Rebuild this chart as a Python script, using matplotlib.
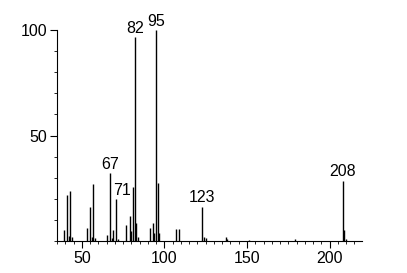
import matplotlib
matplotlib.use("Agg")
from matplotlib import pyplot as plt
from matplotlib.ticker import MultipleLocator

plt.rcParams['font.family'] = ['Liberation Sans', 'DejaVu Sans']

# mass spectrum: m/z and relative intensity (%)
mz = [39, 41, 42, 43, 44, 53, 55, 56, 57, 58, 65, 67, 68, 69, 71, 72,
      77, 79, 80, 81, 82, 83, 84, 91, 93, 94, 95, 96, 97, 107, 109,
      123, 124, 125, 137, 138, 151, 179, 208, 209, 210]
intensity = [5.2, 21.7, 2.5, 23.7, 2.0, 6.0, 16.2, 2.0, 27.0, 1.5, 2.8, 32.2, 1.5, 5.2, 20.0, 1.0,
             7.5, 12.0, 4.7, 25.6, 96.5, 8.6, 2.0, 6.0, 8.7, 3.8, 100.0, 27.6, 4.0, 5.5, 5.5,
             16.3, 2.0, 1.5, 2.0, 1.0, 0.7, 1.0, 28.6, 5.2, 1.0]

labels = [67, 71, 82, 95, 123, 208]
label_dx = {71: 3.5}

fig = plt.figure(figsize=(4.07, 2.73), dpi=100)
ax = fig.add_axes([0.140, 0.117, 0.749, 0.773])

ax.vlines(mz, 0, intensity, color='black', linewidth=1.0)

lookup = dict(zip(mz, intensity))
for m in labels:
    ax.text(m + label_dx.get(m, 0), lookup[m] + 0.6, str(m),
            ha='center', va='bottom', fontsize=11.5)

ax.set_xlim(35, 219.5)
ax.set_ylim(0, 100)
ax.spines['top'].set_visible(False)
ax.spines['right'].set_visible(False)
ax.spines['left'].set_linewidth(0.8)
ax.spines['bottom'].set_linewidth(0.8)

ax.set_xticks([50, 100, 150, 200])
ax.xaxis.set_minor_locator(MultipleLocator(5))
ax.set_yticks([50, 100])
ax.yaxis.set_minor_locator(MultipleLocator(10))
ax.tick_params(which='major', direction='out', length=5, width=0.8, pad=2, labelsize=11.5)
ax.tick_params(which='minor', direction='out', length=2.5, width=0.6)

fig.savefig('out.png', dpi=100)
